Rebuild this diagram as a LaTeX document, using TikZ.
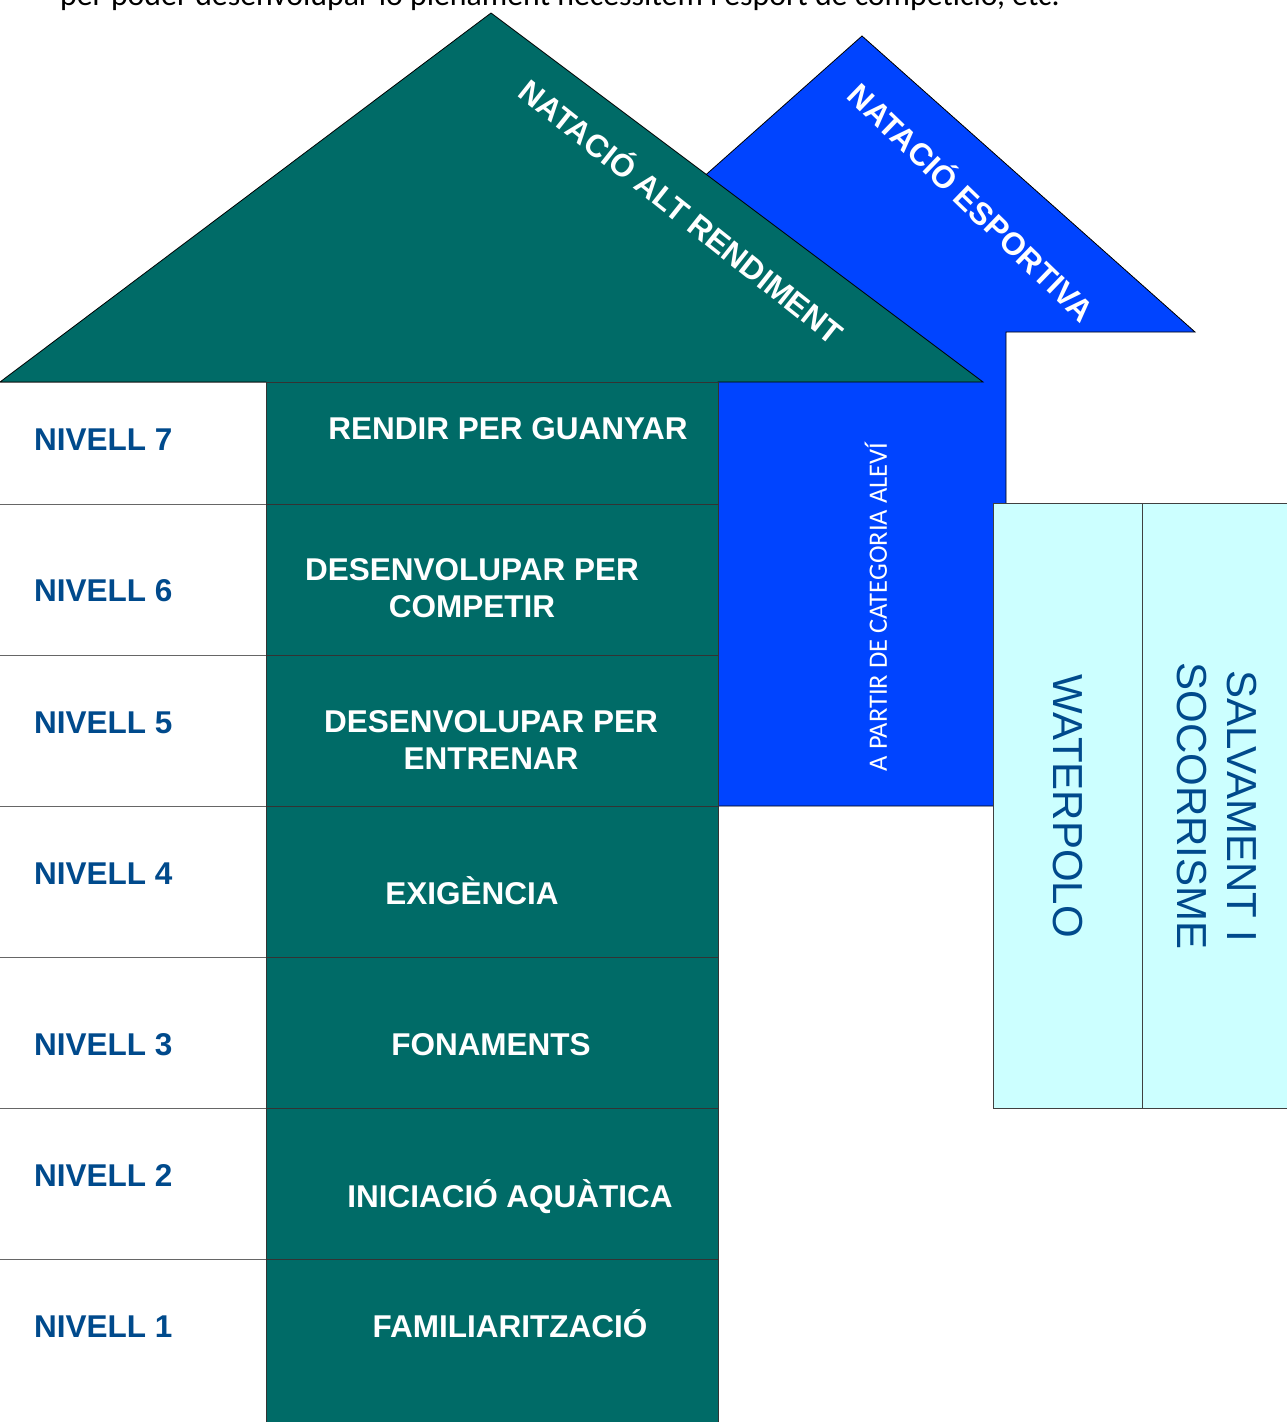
\documentclass[tikz,border=0pt]{standalone}
\usepackage{fontspec}
\setmainfont{Liberation Sans}
\newfontfamily\bodyfont{Carlito}
\definecolor{teal1}{RGB}{0,107,103}
\definecolor{blue1}{RGB}{0,68,255}
\definecolor{cyan1}{RGB}{204,255,255}
\definecolor{navy1}{RGB}{0,74,140}
\begin{document}
\begin{tikzpicture}[x=1pt,y=-1pt,
  lvl/.style={font=\fontsize{31.5}{37}\selectfont\bfseries, text=navy1, anchor=base west, inner sep=0},
  stage/.style={font=\fontsize{31.5}{37}\selectfont\bfseries, text=white, inner sep=0, align=center},
  leftcell/.style={draw=black!60, line width=0.8pt, fill=white},
  greencell/.style={draw=black!80, line width=0.8pt, fill=teal1},
  sidebox/.style={draw=black!75, line width=0.8pt, fill=cyan1},
  vert/.style={font=\fontsize{42}{50}\selectfont, text=navy1, inner sep=0, align=center, rotate=-90}
]
\useasboundingbox (0,0) rectangle (1287,1422);

% top text (cut)
\node[font=\bodyfont\fontsize{31.8}{36}\selectfont, anchor=base west, inner sep=0] (toptext) at (60,5) {per poder desenvolupar-lo plenament necessitem l'esport de competició, etc.};

% blue arrow
\draw[fill=blue1, draw=black, line width=0.8pt] (718,806) -- (718,332) -- (529,332) -- (862,36) -- (1195,332) -- (1006,332) -- (1006,806) -- cycle;

% green arrow
\draw[fill=teal1, draw=black, line width=0.8pt] (266,1440) -- (266,382) -- (0,382) -- (491,13) -- (983,382) -- (718,382) -- (718,1440);

% table rows
\foreach \ya/\yb [count=\i] in {382/504, 504/655, 655/806, 806/957, 957/1108, 1108/1259, 1259/1440} {
  \draw[leftcell] (-2,\ya) rectangle (266,\yb);
  \draw[greencell] (266,\ya) rectangle (718,\yb);
}

% side boxes
\draw[sidebox] (993,503) rectangle (1142,1108);
\draw[sidebox] (1142,503) rectangle (1295,1108);

% level labels
\node[lvl] (n7) at (34,450) {NIVELL 7};
\node[lvl] (n6) at (34,601) {NIVELL 6};
\node[lvl] (n5) at (34,733) {NIVELL 5};
\node[lvl] (n4) at (34,884) {NIVELL 4};
\node[lvl] (n3) at (34,1055) {NIVELL 3};
\node[lvl] (n2) at (34,1186) {NIVELL 2};
\node[lvl] (n1) at (34,1337) {NIVELL 1};

% stage labels
\node[stage, anchor=base] (s7) at (508,439) {RENDIR PER GUANYAR};
\node[stage] (s6) at (472,588) {DESENVOLUPAR PER\\COMPETIR};
\node[stage] (s5) at (491,740) {DESENVOLUPAR PER\\ENTRENAR};
\node[stage, anchor=base] (s4) at (472,904) {EXIGÈNCIA};
\node[stage, anchor=base] (s3) at (491,1055) {FONAMENTS};
\node[stage, anchor=base] (s2) at (510,1207) {INICIACIÓ AQUÀTICA};
\node[stage, anchor=base] (s1) at (510,1337) {FAMILIARITZACIÓ};

% arrow titles
\node[stage, rotate=-38.5] (alt) at (683,210) {NATACIÓ ALT RENDIMENT};
\node[stage, rotate=-44] (esp) at (973,201) {NATACIÓ ESPORTIVA};
\node[font=\bodyfont\fontsize{26.5}{30}\selectfont, text=white, inner sep=0, rotate=90] (alevi) at (876,607) {A PARTIR DE CATEGORIA ALEVÍ};

% side texts
\node[vert] (wp) at (1068,806) {WATERPOLO};
\node[vert] (salv) at (1217,806) {SALVAMENT I\\SOCORRISME};
\end{tikzpicture}
\end{document}
